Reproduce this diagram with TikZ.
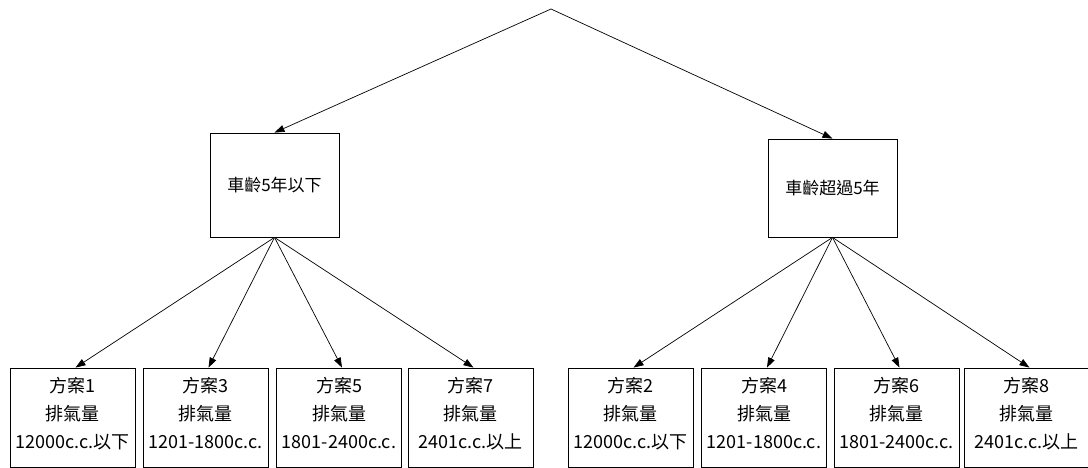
\documentclass[tikz,border=0pt]{standalone}
\usepackage{fontspec}
\setmainfont{Noto Sans CJK TC}
\usetikzlibrary{arrows.meta}
\begin{document}
\begin{tikzpicture}[x=1pt,y=-1pt,
  box/.style={draw,line width=0.8pt,inner sep=0pt},
  midbox/.style={box,minimum width=129pt,font=\fontsize{17}{18}\selectfont},
  leafbox/.style={box,minimum width=125pt,minimum height=99pt},
  leaftext/.style={align=center,inner sep=0pt,font=\fontsize{18}{28}\selectfont},
  conn/.style={line width=0.7pt,-{Triangle[length=10pt,width=7pt]}}]
\useasboundingbox (0,0) rectangle (1088,468);
\coordinate (root) at (551,9);
\node[midbox,minimum height=104pt] (L) at (274.5,185) {車齡5年以下};
\node[midbox,minimum height=98pt] (R) at (832.5,188) {車齡超過5年};
\foreach \n/\x/\t in {b1/72.5/{方案1\\排氣量\\12000c.c.以下},
                      b3/205.5/{方案3\\排氣量\\1201-1800c.c.},
                      b5/339/{方案5\\排氣量\\1801-2400c.c.},
                      b7/470.5/{方案7\\排氣量\\2401c.c.以上},
                      b2/630.5/{方案2\\排氣量\\12000c.c.以下},
                      b4/764/{方案4\\排氣量\\1201-1800c.c.},
                      b6/896.5/{方案6\\排氣量\\1801-2400c.c.},
                      b8/1026.5/{方案8\\排氣量\\2401c.c.以上}}{
  \node[leafbox] (\n) at (\x,417.5) {};
  \node[leaftext] (\n t) at ([yshift=4pt]\n.center) {\t};
}
\draw[conn] (root) -- (L.north);
\draw[conn] (root) -- (R.north);
\foreach \b in {b1,b3,b5,b7} \draw[conn] (L.south) -- ([xshift=3pt]\b.north);
\foreach \b in {b2,b4,b6,b8} \draw[conn] (R.south) -- ([xshift=3pt]\b.north);
\end{tikzpicture}
\end{document}
